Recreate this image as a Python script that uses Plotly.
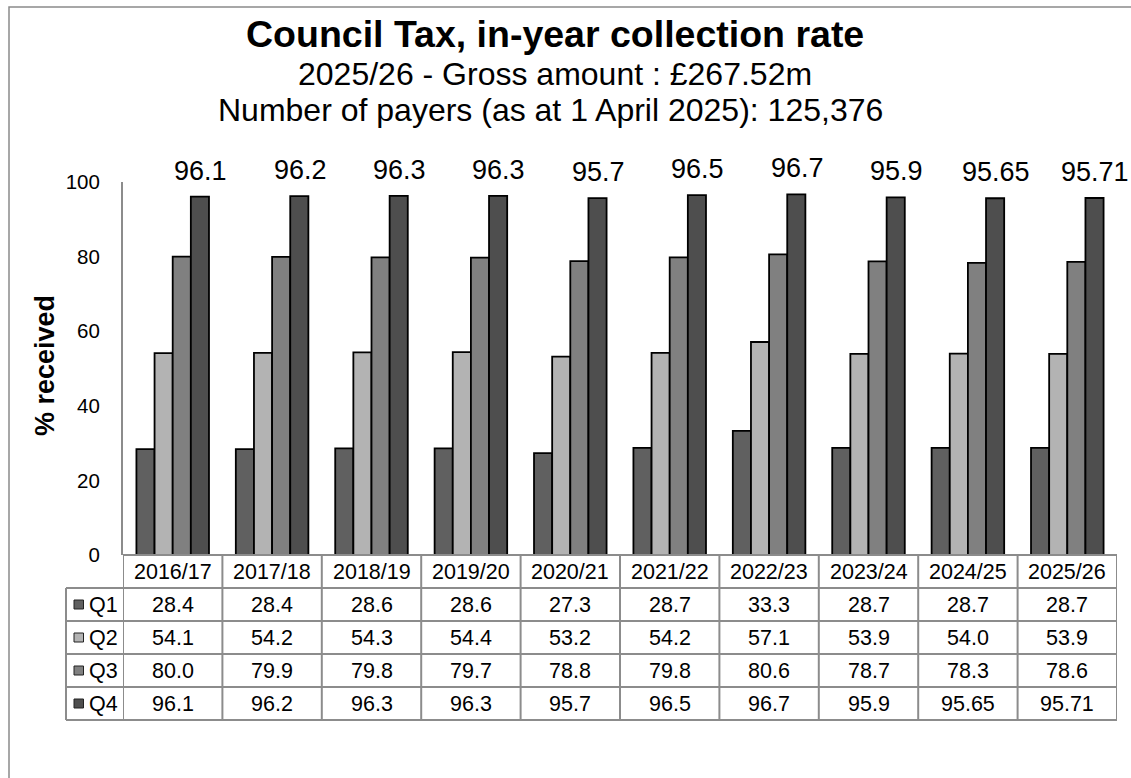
import plotly.graph_objects as go

years = ["2016/17", "2017/18", "2018/19", "2019/20", "2020/21",
         "2021/22", "2022/23", "2023/24", "2024/25", "2025/26"]
q1 = [28.4, 28.4, 28.6, 28.6, 27.3, 28.7, 33.3, 28.7, 28.7, 28.7]
q2 = [54.1, 54.2, 54.3, 54.4, 53.2, 54.2, 57.1, 53.9, 54.0, 53.9]
q3 = [80.0, 79.9, 79.8, 79.7, 78.8, 79.8, 80.6, 78.7, 78.3, 78.6]
q4 = [96.1, 96.2, 96.3, 96.3, 95.7, 96.5, 96.7, 95.9, 95.65, 95.71]
series_names = ["Q1", "Q2", "Q3", "Q4"]
series_vals = [q1, q2, q3, q4]
colors = ["#606060", "#b3b3b3", "#808080", "#4e4e4e"]
y_ticks = [0, 20, 40, 60, 80, 100]

title = "Council Tax, in-year collection rate"
sub1 = "2025/26 - Gross amount : £267.52m"
sub2 = "Number of payers (as at 1 April 2025): 125,376"
y_title = "% received"

FONT = "Arial, Liberation Sans, sans-serif"
W, H = 1131, 778
PL, PR, PT, PB = 123, 1117, 182, 555
GRID = "#8c8c8c"


def px_x(p):
    return (p - PL) / (PR - PL)


def px_y(p):
    return (PB - p) / (PB - PT)


fig = go.Figure()
for name, vals, col in zip(series_names, series_vals, colors):
    fig.add_trace(go.Bar(x=years, y=vals, name=name, marker_color=col,
                         marker_line_color="black", marker_line_width=1.8,
                         showlegend=False))

annotations = []
shapes = []

# titles
annotations.append(dict(text="<b>" + title + "</b>", x=px_x(555), y=px_y(34),
                        xref="paper", yref="paper", showarrow=False,
                        font=dict(size=37.5, color="black", family=FONT),
                        xanchor="center", yanchor="middle"))
annotations.append(dict(text=sub1, x=px_x(555), y=px_y(74),
                        xref="paper", yref="paper", showarrow=False,
                        font=dict(size=32, color="black", family=FONT),
                        xanchor="center", yanchor="middle"))
annotations.append(dict(text=sub2, x=px_x(550), y=px_y(110),
                        xref="paper", yref="paper", showarrow=False,
                        font=dict(size=32, color="black", family=FONT),
                        xanchor="center", yanchor="middle"))
# y-axis title
annotations.append(dict(text="<b>" + y_title + "</b>", x=px_x(45), y=px_y(366),
                        xref="paper", yref="paper", showarrow=False, textangle=-90,
                        font=dict(size=27, color="black", family=FONT),
                        xanchor="center", yanchor="middle"))

# data labels on Q4
for yr, v in zip(years, q4):
    annotations.append(dict(text=str(v), x=yr, y=v, xref="x", yref="y",
                            xshift=28, yshift=9, showarrow=False,
                            yanchor="bottom", xanchor="center",
                            font=dict(size=27, color="black", family=FONT)))

# data table
row_tops = [555, 588, 621, 654, 687, 720]
n = len(years)
for i in range(n + 1):
    shapes.append(dict(type="line", xref="x", yref="paper", x0=i - 0.5, x1=i - 0.5,
                       y0=px_y(555), y1=px_y(720), line=dict(color=GRID, width=2)))
shapes.append(dict(type="line", xref="paper", yref="paper", x0=px_x(66), x1=px_x(66),
                   y0=px_y(588), y1=px_y(720), line=dict(color=GRID, width=2)))
shapes.append(dict(type="line", xref="paper", yref="paper", x0=0, x1=1,
                   y0=0, y1=0, line=dict(color=GRID, width=2)))
for yt in row_tops[1:]:
    shapes.append(dict(type="line", xref="paper", yref="paper", x0=px_x(66), x1=1,
                       y0=px_y(yt), y1=px_y(yt), line=dict(color=GRID, width=2)))
for yr in years:
    annotations.append(dict(text=yr, x=yr, y=px_y(571.5), xref="x", yref="paper",
                            showarrow=False, xanchor="center", yanchor="middle",
                            font=dict(size=21.5, color="black", family=FONT)))
for r, (name, vals, col) in enumerate(zip(series_names, series_vals, colors)):
    yc = (row_tops[r + 1] + row_tops[r + 2]) / 2
    shapes.append(dict(type="rect", xref="paper", yref="paper",
                       x0=px_x(74), x1=px_x(83.5), y0=px_y(yc - 4.5), y1=px_y(yc + 4.5),
                       fillcolor=col, line=dict(color="#222222", width=1)))
    annotations.append(dict(text=name, x=px_x(87), y=px_y(yc), xref="paper", yref="paper",
                            showarrow=False, xanchor="left", yanchor="middle",
                            font=dict(size=21.5, color="black", family=FONT)))
    for yr, v in zip(years, vals):
        annotations.append(dict(text=str(v), x=yr, y=px_y(yc), xref="x", yref="paper",
                                showarrow=False, xanchor="center", yanchor="middle",
                                font=dict(size=21.5, color="black", family=FONT)))

# outer chart border (extends past the window on right/bottom)
shapes.append(dict(type="rect", xref="paper", yref="paper",
                   x0=px_x(9), x1=px_x(1145), y0=px_y(7), y1=px_y(800),
                   line=dict(color="#8a8a8a", width=1.5), fillcolor="rgba(0,0,0,0)",
                   layer="below"))

fig.update_layout(
    width=W, height=H,
    margin=dict(l=PL, r=W - PR, t=PT, b=H - PB, pad=0),
    paper_bgcolor="white", plot_bgcolor="white",
    barmode="group", bargap=0.27, bargroupgap=0,
    font=dict(family=FONT, color="black"),
    annotations=annotations, shapes=shapes,
    xaxis=dict(type="category", range=[-0.5, n - 0.5], showticklabels=False,
               showgrid=False, zeroline=False, showline=False, ticks="", fixedrange=True),
    yaxis=dict(range=[0, 100], tickvals=y_ticks, showgrid=False, zeroline=False,
               showline=True, linecolor=GRID, linewidth=2, ticks="",
               ticklabelstandoff=17, tickfont=dict(size=20.5, color="black", family=FONT)),
)

fig.write_html("out.html")
